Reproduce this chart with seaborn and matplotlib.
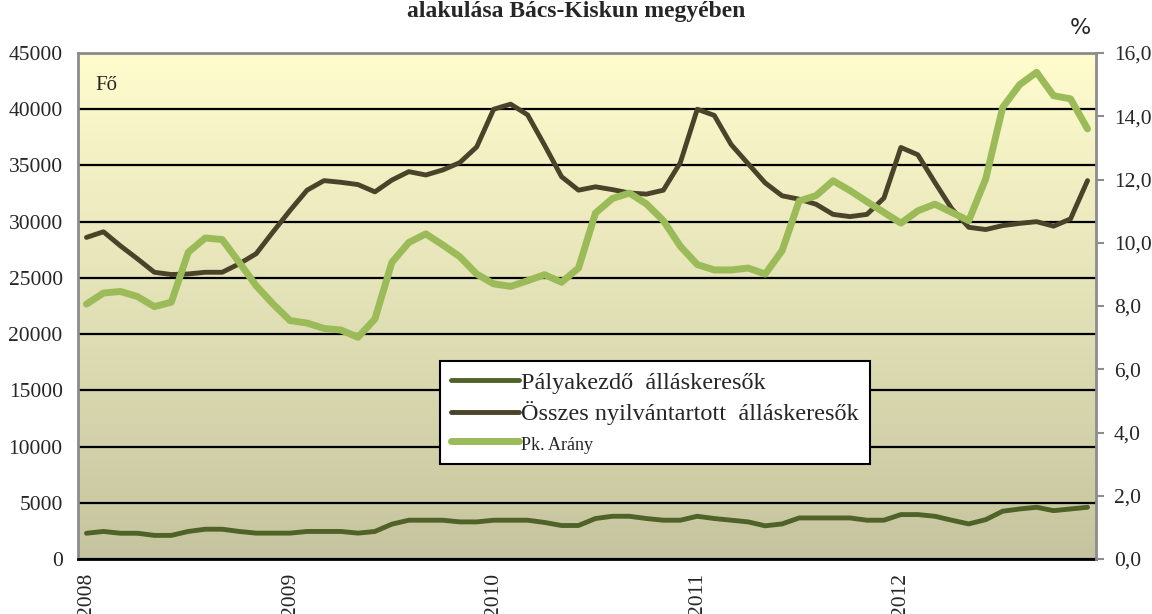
import numpy as np
import pandas as pd
import matplotlib
matplotlib.use("Agg")
import matplotlib.pyplot as plt
from matplotlib.ticker import FuncFormatter
import seaborn as sns

# monthly data 2008-01 .. 2012-12
months = pd.period_range("2008-01", "2012-12", freq="M").astype(str)
year_labels = ["2008", "2009", "2010", "2011", "2012"]

palyakezdo = [2290, 2450, 2290, 2290, 2100, 2100, 2450, 2650, 2650, 2450, 2300, 2300,
              2300, 2450, 2450, 2450, 2300, 2450, 3100, 3450, 3450, 3450, 3300, 3300,
              3450, 3450, 3450, 3250, 2980, 2980, 3600, 3800, 3800, 3600, 3450, 3450,
              3800, 3600, 3450, 3300, 2950, 3120, 3650, 3650, 3650, 3650, 3450, 3450,
              3950, 3950, 3800, 3450, 3120, 3500, 4250, 4450, 4600, 4300, 4450, 4600]

osszes = [28600, 29100, 27850, 26700, 25500, 25300, 25350, 25500, 25500, 26250, 27150, 29100,
          31000, 32800, 33650, 33500, 33300, 32650, 33700, 34450, 34150, 34600, 35250, 36650,
          40000, 40450, 39500, 36800, 34000, 32800, 33100, 32850, 32550, 32450, 32800, 35250,
          40000, 39450, 36850, 35150, 33450, 32300, 32000, 31550, 30650, 30450, 30650, 32100,
          36600, 35950, 33500, 31150, 29500, 29300, 29650, 29850, 30000, 29600, 30250, 33650]

pk_arany = [8.06, 8.41, 8.46, 8.30, 7.98, 8.12, 9.70, 10.15, 10.10, 9.38, 8.64, 8.06,
            7.54, 7.46, 7.29, 7.24, 7.01, 7.59, 9.38, 10.01, 10.28, 9.93, 9.56, 9.01,
            8.70, 8.62, 8.80, 8.99, 8.75, 9.20, 10.94, 11.40, 11.57, 11.23, 10.70, 9.89,
            9.31, 9.14, 9.14, 9.20, 9.01, 9.75, 11.32, 11.49, 11.96, 11.65, 11.30, 10.96,
            10.62, 11.01, 11.22, 10.96, 10.70, 12.02, 14.28, 15.00, 15.39, 14.65, 14.55, 13.60]

df = pd.DataFrame({
    "idx": np.arange(len(months)),
    "honap": months,
    "Pályakezdő  álláskeresők": palyakezdo,
    "Összes nyilvántartott  álláskeresők": osszes,
    "Pk. Arány": pk_arany,
})

sns.set_style("white")
plt.rcParams["font.family"] = ["Liberation Serif", "DejaVu Serif"]

fig = plt.figure(figsize=(11.52, 6.14), dpi=100)
ax = fig.add_axes([78 / 1152, 1 - 559 / 614, (1096 - 78) / 1152, (559 - 53) / 614])

# background gradient (light yellow -> olive)
top = np.array([255, 253, 206]) / 255
bottom = np.array([198, 196, 158]) / 255
grad = np.linspace(0, 1, 256)[:, None, None]
img = top * (1 - grad) + bottom * grad
ax.imshow(img, extent=(0, 1, 0, 1), transform=ax.transAxes, aspect="auto", zorder=0)

c_pk = "#4f6228"
c_total = "#4a4229"
c_ratio = "#9bbb59"

sns.lineplot(data=df, x="idx", y="Pályakezdő  álláskeresők", color=c_pk, lw=3.5,
             ax=ax, label="Pályakezdő  álláskeresők", zorder=3, legend=False)
sns.lineplot(data=df, x="idx", y="Összes nyilvántartott  álláskeresők", color=c_total, lw=3.5,
             ax=ax, label="Összes nyilvántartott  álláskeresők", zorder=3, legend=False)

ax.set_xlim(-0.5, len(months) - 0.5)
ax.set_ylim(0, 45000)
ax.set_yticks(np.arange(0, 45001, 5000))
ax.yaxis.grid(True, color="black", lw=1.6, zorder=1)
ax.set_axisbelow(True)
ax.set_xticks([0, 12, 24, 36, 48])
ax.set_xticklabels(year_labels, rotation=90, va="top")
ax.set_xlabel("")
ax.set_ylabel("")
ax.tick_params(axis="y", length=0, labelsize=15.5, pad=11)
ax.tick_params(axis="x", length=0, labelsize=15.5, pad=10)
for side in ["left", "top"]:
    ax.spines[side].set_color("#8c8c8c")
    ax.spines[side].set_linewidth(2)
ax.spines["bottom"].set_color("black")
ax.spines["bottom"].set_linewidth(2)
ax.spines["right"].set_visible(False)

ax2 = ax.twinx()
sns.lineplot(data=df, x="idx", y="Pk. Arány", color=c_ratio, lw=5, ax=ax2,
             label="Pk. Arány", zorder=4, legend=False)
ax2.set_ylim(0, 16)
ax2.set_yticks(np.arange(0, 16.1, 2))
ax2.yaxis.set_major_formatter(FuncFormatter(lambda v, p: f"{v:.1f}".replace(".", ",")))
ax2.set_ylabel("")
ax2.tick_params(axis="y", length=6, width=1.5, color="#8c8c8c", labelsize=15.5, pad=7)
for side in ["left", "top", "bottom"]:
    ax2.spines[side].set_visible(False)
ax2.spines["right"].set_color("#8c8c8c")
ax2.spines["right"].set_linewidth(2)

ax.text(0.017, 0.935, "Fő", transform=ax.transAxes, fontsize=15, va="center")
fig.text(1080 / 1152, 1 - 28 / 614, "%", fontsize=16, family="DejaVu Sans",
         ha="center", va="center")
fig.text(576 / 1152, 1 - 1 / 614, "alakulása Bács-Kiskun megyében", fontsize=17,
         fontweight="bold", ha="center", va="top")

h1, l1 = ax.get_legend_handles_labels()
h2, l2 = ax2.get_legend_handles_labels()
leg = ax2.legend(h1 + h2, l1 + l2, loc="upper left",
                 bbox_to_anchor=((440 - 78) / 1018, (559 - 361) / 506),
                 frameon=True, fancybox=False, edgecolor="black", framealpha=1,
                 fontsize=17.5, handlelength=2.8, handletextpad=0.1, labelspacing=0.3,
                 borderpad=0.45, borderaxespad=0)
leg.get_frame().set_linewidth(1.5)
leg.get_texts()[2].set_fontsize(13)
leg.set_zorder(10)

fig.savefig("out.png", dpi=100)
